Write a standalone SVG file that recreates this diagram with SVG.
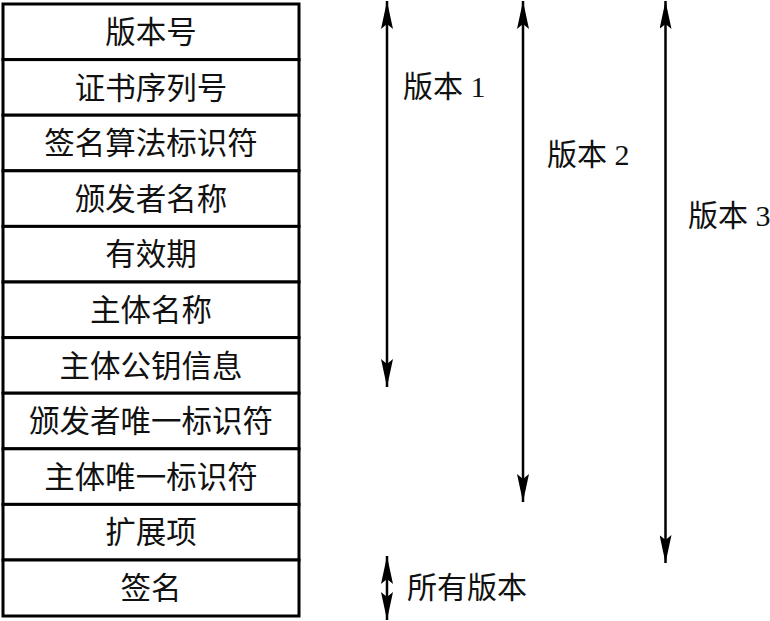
<svg xmlns="http://www.w3.org/2000/svg" width="770" height="621" viewBox="0 0 770 621">
<style>
.cell{fill:#fff;stroke:#000;stroke-width:3}
.t{font-family:"Liberation Serif","Noto Sans CJK SC",serif;font-size:30.5px;fill:#111;text-anchor:middle}
.l{font-family:"Liberation Serif","Noto Sans CJK SC",serif;font-size:30px;fill:#111}
.ln{stroke:#000;stroke-width:2.5;fill:none}
</style>
<defs>
<marker id="ah" viewBox="0 0 28 12" refX="28" refY="6" markerWidth="28" markerHeight="12" markerUnits="userSpaceOnUse" orient="auto-start-reverse">
<path d="M0,0 L28,6 L0,12 L5,6 Z" fill="#000"/>
</marker>
</defs>
<rect x="0" y="0" width="770" height="621" fill="#fff"/>
<g id="row1"><rect class="cell" x="3" y="4" width="296" height="55.6"/><text class="t" x="151" y="43">版本号</text></g>
<g id="row2"><rect class="cell" x="3" y="59.6" width="296" height="55.6"/><text class="t" x="151" y="98.6">证书序列号</text></g>
<g id="row3"><rect class="cell" x="3" y="115.2" width="296" height="55.6"/><text class="t" x="151" y="154.2">签名算法标识符</text></g>
<g id="row4"><rect class="cell" x="3" y="170.8" width="296" height="55.6"/><text class="t" x="151" y="209.8">颁发者名称</text></g>
<g id="row5"><rect class="cell" x="3" y="226.4" width="296" height="55.6"/><text class="t" x="151" y="265.4">有效期</text></g>
<g id="row6"><rect class="cell" x="3" y="282" width="296" height="55.6"/><text class="t" x="151" y="321">主体名称</text></g>
<g id="row7"><rect class="cell" x="3" y="337.6" width="296" height="55.6"/><text class="t" x="151" y="376.6">主体公钥信息</text></g>
<g id="row8"><rect class="cell" x="3" y="393.2" width="296" height="55.6"/><text class="t" x="151" y="432.2">颁发者唯一标识符</text></g>
<g id="row9"><rect class="cell" x="3" y="448.8" width="296" height="55.6"/><text class="t" x="151" y="487.8">主体唯一标识符</text></g>
<g id="row10"><rect class="cell" x="3" y="504.4" width="296" height="55.6"/><text class="t" x="151" y="543.4">扩展项</text></g>
<g id="row11"><rect class="cell" x="3" y="560" width="296" height="56"/><text class="t" x="151" y="599">签名</text></g>
<g id="connectors">
<line class="ln" x1="387" y1="1" x2="387" y2="387" marker-start="url(#ah)" marker-end="url(#ah)"/>
<line class="ln" x1="523" y1="1" x2="523" y2="502" marker-start="url(#ah)" marker-end="url(#ah)"/>
<line class="ln" x1="665.5" y1="1" x2="665.5" y2="563" marker-start="url(#ah)" marker-end="url(#ah)"/>
<line class="ln" x1="387" y1="556" x2="387" y2="620" marker-start="url(#ah)" marker-end="url(#ah)"/>
</g>
<g id="labels">
<text class="l" x="403" y="97">版本 1</text>
<text class="l" x="547" y="165">版本 2</text>
<text class="l" x="688" y="226">版本 3</text>
<text class="l" x="407" y="598">所有版本</text>
</g>
</svg>
